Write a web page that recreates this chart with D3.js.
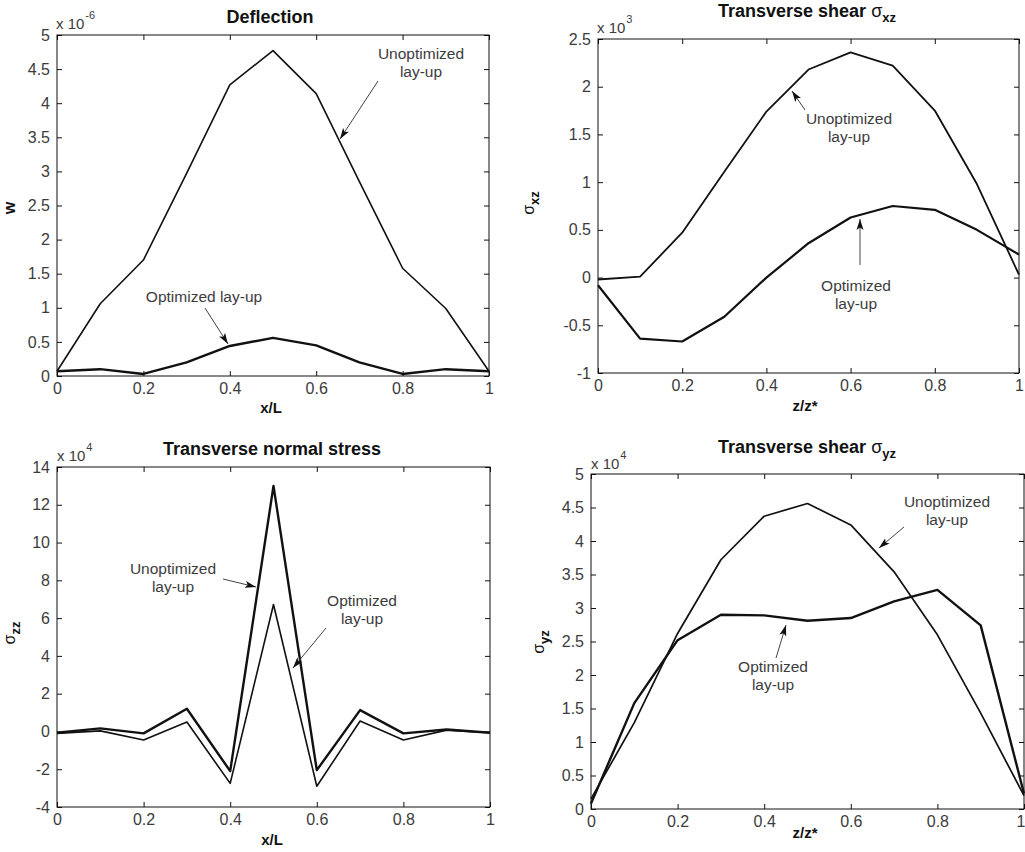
<!DOCTYPE html>
<html><head><meta charset="utf-8">
<script src="https://cdn.jsdelivr.net/npm/d3@7/dist/d3.min.js"></script>
<style>
html,body{margin:0;padding:0;background:#fff;}
svg{display:block;font-family:"Liberation Sans",Arial,sans-serif;}
</style></head>
<body>
<svg id="chart" width="1025" height="852"></svg>
<script>
// ---------- data ----------
const xVals = [0, 0.1, 0.2, 0.3, 0.4, 0.5, 0.6, 0.7, 0.8, 0.9, 1];
const xTicks = [0, 0.2, 0.4, 0.6, 0.8, 1];
const xTickLabels = ["0", "0.2", "0.4", "0.6", "0.8", "1"];

// Deflection (x 1e-6)
const deflUnopt = [0.07, 1.06, 1.70, 2.97, 4.27, 4.77, 4.14, 2.85, 1.58, 0.99, 0.07];
const deflOpt   = [0.07, 0.10, 0.03, 0.20, 0.44, 0.56, 0.45, 0.20, 0.03, 0.10, 0.07];
const deflTicks = [0, 0.5, 1, 1.5, 2, 2.5, 3, 3.5, 4, 4.5, 5];
const deflTickLabels = ["0","0.5","1","1.5","2","2.5","3","3.5","4","4.5","5"];

// Transverse shear sigma_xz (x 1e3)
const sxzUnopt = [-0.02, 0.01, 0.47, 1.11, 1.74, 2.18, 2.36, 2.22, 1.75, 0.98, 0.03];
const sxzOpt   = [-0.08, -0.64, -0.67, -0.41, 0.00, 0.36, 0.63, 0.75, 0.71, 0.50, 0.24];
const sxzTicks = [-1, -0.5, 0, 0.5, 1, 1.5, 2, 2.5];
const sxzTickLabels = ["-1","-0.5","0","0.5","1","1.5","2","2.5"];

// Transverse normal stress sigma_zz (x 1e4)
const szzUnopt = [-0.07, 0.16, -0.10, 1.20, -2.10, 13.0, -2.05, 1.13, -0.10, 0.10, -0.07];
const szzOpt   = [-0.10, 0.03, -0.45, 0.50, -2.75, 6.72, -2.90, 0.55, -0.45, 0.07, -0.07];
const szzTicks = [-4, -2, 0, 2, 4, 6, 8, 10, 12, 14];
const szzTickLabels = ["-4","-2","0","2","4","6","8","10","12","14"];

// Transverse shear sigma_yz (x 1e4)
const syzUnopt = [0.15, 1.29, 2.62, 3.72, 4.37, 4.56, 4.24, 3.54, 2.60, 1.43, 0.20];
const syzOpt   = [0.08, 1.58, 2.52, 2.90, 2.89, 2.81, 2.85, 3.10, 3.27, 2.74, 0.23];
const syzTicks = [0, 0.5, 1, 1.5, 2, 2.5, 3, 3.5, 4, 4.5, 5];
const syzTickLabels = ["0","0.5","1","1.5","2","2.5","3","3.5","4","4.5","5"];

// ---------- layout ----------
const svg = d3.select("#chart");
const defs = svg.append("defs");
defs.append("marker").attr("id","ah").attr("markerUnits","userSpaceOnUse")
  .attr("markerWidth",12).attr("markerHeight",8).attr("refX",11).attr("refY",4)
  .attr("orient","auto")
  .append("path").attr("d","M0,0.5 L11,4 L0,7.5 L2.5,4 Z").attr("fill","#111");

const TICKCOL = "#3c3c3c";

const panels = [
  { box:[57,35,489,376], yDomain:[0,5], yTicks:deflTicks, yLabels:deflTickLabels,
    series:[{v:deflUnopt,w:1.6},{v:deflOpt,w:2.4}],
    title:{x:270,y:23,main:"Deflection",sub:null},
    exp:{x:56,y:29,e:"-6"}, xl:{x:271,y:413,t:"x/L"}, yl:{x:10,y:208,main:"w",sub:null},
    notes:[{x:421,y:59,lines:["Unoptimized","lay-up"]},{x:204,y:302,lines:["Optimized lay-up"]}],
    arrows:[[378,81,340,139],[205,308,228,344]] },
  { box:[598,39,1019,373], yDomain:[-1,2.5], yTicks:sxzTicks, yLabels:sxzTickLabels,
    series:[{v:sxzUnopt,w:1.8},{v:sxzOpt,w:2.2}],
    title:{x:807,y:17,main:"Transverse shear ",sub:"xz"},
    exp:{x:597,y:33,e:"3"}, xl:{x:805,y:411,t:"z/z*"}, yl:{x:529,y:203,main:"σ",sub:"xz"},
    notes:[{x:849,y:124,lines:["Unoptimized","lay-up"]},{x:856,y:291,lines:["Optimized","lay-up"]}],
    arrows:[[805,110,792,91],[860,265,860,219]] },
  { box:[57,467,490,807], yDomain:[-4,14], yTicks:szzTicks, yLabels:szzTickLabels,
    series:[{v:szzUnopt,w:2.4},{v:szzOpt,w:1.6}],
    title:{x:272,y:455,main:"Transverse normal stress",sub:null},
    exp:{x:57,y:461,e:"4"}, xl:{x:272,y:845,t:"x/L"}, yl:{x:10,y:633,main:"σ",sub:"zz"},
    notes:[{x:173,y:574,lines:["Unoptimized","lay-up"]},{x:362,y:606,lines:["Optimized","lay-up"]}],
    arrows:[[223,579,256,587],[326,628,293,668]] },
  { box:[591,474,1024,809], yDomain:[0,5], yTicks:syzTicks, yLabels:syzTickLabels,
    series:[{v:syzUnopt,w:1.7},{v:syzOpt,w:2.4}],
    title:{x:807,y:453,main:"Transverse shear ",sub:"yz"},
    exp:{x:591,y:469,e:"4"}, xl:{x:805,y:838,t:"z/z*"}, yl:{x:539,y:642,main:"σ",sub:"yz"},
    notes:[{x:947,y:507,lines:["Unoptimized","lay-up"]},{x:773,y:672,lines:["Optimized","lay-up"]}],
    arrows:[[904,527,879,548],[776,658,786,625]] }
];

panels.forEach(p => {
  const [x0,y0,x1,y1] = p.box;
  const x = d3.scaleLinear().domain([0,1]).range([x0,x1]);
  const y = d3.scaleLinear().domain(p.yDomain).range([y1,y0]);
  const g = svg.append("g");

  // box
  g.append("rect").attr("x",x0).attr("y",y0).attr("width",x1-x0).attr("height",y1-y0)
    .attr("fill","#fff").attr("stroke","#111").attr("stroke-width",1);

  const fmtX = d => xTickLabels[xTicks.indexOf(d)];
  const fmtY = d => p.yLabels[p.yTicks.indexOf(d)];

  const styleAxis = sel => {
    sel.select(".domain").remove();
    sel.selectAll(".tick line").attr("stroke","#111");
    sel.selectAll(".tick text").attr("fill",TICKCOL).attr("font-size","16px")
      .attr("font-family","'Liberation Sans',Arial,sans-serif");
  };
  const xb = g.append("g").attr("transform",`translate(0,${y1})`)
    .call(d3.axisBottom(x).tickValues(xTicks).tickFormat(fmtX).tickSize(-5).tickPadding(7)).call(styleAxis);
  // keep a label that would run past the page edge inside it
  xb.selectAll(".tick text").each(function(d){
    if (x(d) + 6 > 1025) d3.select(this).attr("text-anchor","end").attr("x",1025 - x(d));
  });
  g.append("g").attr("transform",`translate(0,${y0})`)
    .call(d3.axisTop(x).tickValues(xTicks).tickFormat("").tickSize(-5)).call(styleAxis);
  g.append("g").attr("transform",`translate(${x0},0)`)
    .call(d3.axisLeft(y).tickValues(p.yTicks).tickFormat(fmtY).tickSize(-5).tickPadding(7)).call(styleAxis);
  g.append("g").attr("transform",`translate(${x1},0)`)
    .call(d3.axisRight(y).tickValues(p.yTicks).tickFormat("").tickSize(-5)).call(styleAxis);

  // lines
  const line = d3.line().x((d,i)=>x(xVals[i])).y(d=>y(d));
  p.series.forEach(s => {
    g.append("path").datum(s.v).attr("d",line).attr("fill","none")
      .attr("stroke","#111").attr("stroke-width",s.w).attr("stroke-linejoin","round");
  });

  // title
  const t = g.append("text").attr("x",p.title.x).attr("y",p.title.y).attr("text-anchor","middle")
    .attr("font-size","18px").attr("font-weight","bold").attr("fill","#111");
  t.append("tspan").text(p.title.main);
  if (p.title.sub) {
    t.append("tspan").attr("font-weight","normal").attr("font-size","18px").text("σ");
    t.append("tspan").attr("font-size","13px").attr("dy",5).text(p.title.sub);
  }

  // exponent
  const e = g.append("text").attr("x",p.exp.x).attr("y",p.exp.y).attr("fill",TICKCOL).attr("font-size","15px");
  e.append("tspan").text("x 10");
  e.append("tspan").attr("font-size","11px").attr("dy",-10).attr("dx",1).text(p.exp.e);

  // x label
  g.append("text").attr("x",p.xl.x).attr("y",p.xl.y).attr("text-anchor","middle")
    .attr("font-size","15px").attr("font-weight","bold").attr("fill","#111").text(p.xl.t);

  // y label
  const yl = g.append("text").attr("transform",`translate(${p.yl.x+5},${p.yl.y}) rotate(-90)`)
    .attr("text-anchor","middle").attr("font-size","16px").attr("font-weight","bold").attr("fill","#111");
  if (p.yl.sub) {
    yl.append("tspan").attr("font-weight","normal").text(p.yl.main);
    yl.append("tspan").attr("font-size","13px").attr("dy",5).text(p.yl.sub);
  } else {
    yl.text(p.yl.main);
  }

  // notes
  p.notes.forEach(n => {
    n.lines.forEach((ln,i) => {
      g.append("text").attr("x",n.x).attr("y",n.y + i*18).attr("text-anchor","middle")
        .attr("font-size","15.5px").attr("fill",TICKCOL).text(ln);
    });
  });
  // arrows
  p.arrows.forEach(a => {
    g.append("line").attr("x1",a[0]).attr("y1",a[1]).attr("x2",a[2]).attr("y2",a[3])
      .attr("stroke","#444").attr("stroke-width",1).attr("marker-end","url(#ah)");
  });
});
</script>
</body></html>
